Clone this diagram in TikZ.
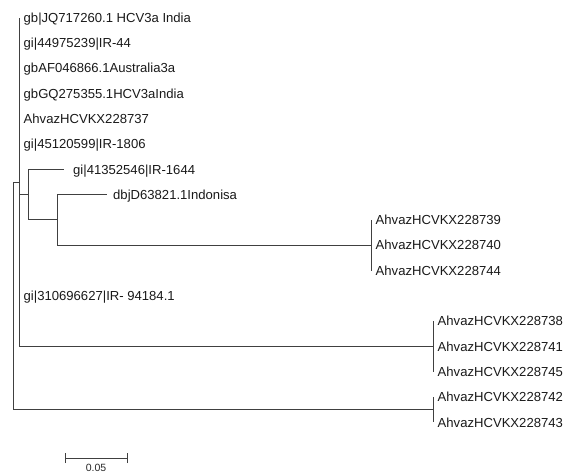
\documentclass[tikz,border=0pt]{standalone}
\usepackage{fontspec}
\setmainfont{Liberation Sans}
\begin{document}
\begin{tikzpicture}[x=1pt,y=-1pt,
 br/.style={draw=black!75, line width=0.9pt},
 leaf/.style={anchor=west, inner xsep=4.5pt, inner ysep=0pt, text height=9.4pt, text depth=0pt,
   font=\fontsize{13.1}{15}\selectfont, text=black!90},
 scalelbl/.style={inner sep=0pt, font=\fontsize{10.5}{12}\selectfont, text=black!85}
]
\useasboundingbox (0,0) rectangle (566,474);
% internal nodes
\coordinate (root) at (13,295.8);
\coordinate (A) at (19,182);
\coordinate (B) at (28,194.6);
\coordinate (E) at (57,219.9);
\coordinate (F) at (371,245.2);
\coordinate (C) at (433,346.4);
\coordinate (D) at (433,409.65);
% leaves
\node[leaf] (l0) at (19,17.5) {gb|JQ717260.1 HCV3a India};
\node[leaf] (l1) at (19,42.8) {gi|44975239|IR-44};
\node[leaf] (l2) at (19,68.1) {gbAF046866.1Australia3a};
\node[leaf] (l3) at (19,93.4) {gbGQ275355.1HCV3aIndia};
\node[leaf] (l4) at (19,118.7) {AhvazHCVKX228737};
\node[leaf] (l5) at (19,144) {gi|45120599|IR-1806};
\node[leaf, inner xsep=9pt] (l6) at (64,169.3) {gi|41352546|IR-1644};
\node[leaf, inner xsep=6pt] (l7) at (107,194.6) {dbjD63821.1Indonisa};
\node[leaf] (l8) at (371,219.9) {AhvazHCVKX228739};
\node[leaf] (l9) at (371,245.2) {AhvazHCVKX228740};
\node[leaf] (l10) at (371,270.5) {AhvazHCVKX228744};
\node[leaf] (l11) at (19,295.8) {gi|310696627|IR- 94184.1};
\node[leaf] (l12) at (433,321.1) {AhvazHCVKX228738};
\node[leaf] (l13) at (433,346.4) {AhvazHCVKX228741};
\node[leaf] (l14) at (433,371.7) {AhvazHCVKX228745};
\node[leaf] (l15) at (433,397) {AhvazHCVKX228742};
\node[leaf] (l16) at (433,422.3) {AhvazHCVKX228743};
% branches
\draw[br] (root) |- (A);
\draw[br] (root) |- (D);
\draw[br] (A) |- (l0.west);
\draw[br] (A) |- (l1.west);
\draw[br] (A) |- (l2.west);
\draw[br] (A) |- (l3.west);
\draw[br] (A) |- (l4.west);
\draw[br] (A) |- (l5.west);
\draw[br] (A) |- (B);
\draw[br] (A) |- (l11.west);
\draw[br] (A) |- (C);
\draw[br] (B) |- (l6.west);
\draw[br] (B) |- (E);
\draw[br] (E) |- (l7.west);
\draw[br] (E) |- (F);
\draw[br] (F) |- (l8.west);
\draw[br] (F) |- (l9.west);
\draw[br] (F) |- (l10.west);
\draw[br] (C) |- (l12.west);
\draw[br] (C) |- (l13.west);
\draw[br] (C) |- (l14.west);
\draw[br] (D) |- (l15.west);
\draw[br] (D) |- (l16.west);
% scale bar
\coordinate (s1) at (65,458);
\coordinate (s2) at (127,458);
\draw[br] (s1) -- (s2);
\draw[br] ([yshift=-5pt]s1) -- ([yshift=5pt]s1);
\draw[br] ([yshift=-5pt]s2) -- ([yshift=5pt]s2);
\node[scalelbl] (sl) at (96,467.5) {0.05};
\end{tikzpicture}
\end{document}
